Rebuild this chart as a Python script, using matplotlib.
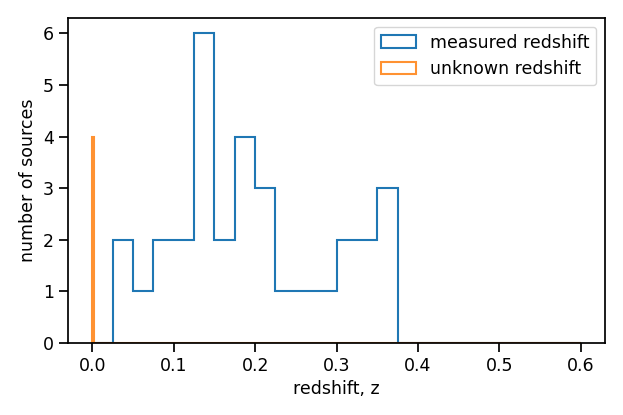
import numpy as np
import matplotlib
matplotlib.use("Agg")
import matplotlib.pyplot as plt
import seaborn as sns

sns.set_theme(style="ticks", context="notebook")
plt.rcParams['font.family'] = ['DejaVu Sans']
plt.rcParams.update({'font.size': 12.5,
                     'axes.labelsize': 12.5,
                     'xtick.labelsize': 12.5,
                     'ytick.labelsize': 12.5,
                     'legend.fontsize': 12.5,
                     'axes.edgecolor': 'black',
                     'xtick.color': 'black',
                     'ytick.color': 'black',
                     'text.color': 'black',
                     'axes.labelcolor': 'black',
                     'xtick.major.size': 6.5,
                     'ytick.major.size': 6.5})

# bin edges (width 0.025) and counts of sources with measured redshift
edges = np.arange(0, 0.6 + 1e-9, 0.025)
counts = [0, 2, 1, 2, 2, 6, 2, 4, 3, 1, 1, 1, 2, 2, 3,
          0, 0, 0, 0, 0, 0, 0, 0, 0]

# sources with unknown redshift, placed at z = 0
n_unknown = 4
unknown_edges = np.arange(0, 0.6 + 1e-9, 0.0015)

centres = edges[:-1] + 0.0125
fig, ax = plt.subplots(figsize=(6.23, 4.15), dpi=100)
ax.hist(centres, bins=edges, weights=counts, histtype="step",
        color="#1f77b4", linewidth=1.5, label="measured redshift")
ax.hist(np.zeros(n_unknown) + 0.0005, bins=unknown_edges, histtype="step",
        color="#ff7f0e", linewidth=1.5, alpha=0.85, label="unknown redshift")
ax.set_xlabel("redshift, z")
ax.set_ylabel("number of sources")
ax.legend(loc="upper right")
fig.subplots_adjust(left=68/623, right=605/623, top=1-18/415, bottom=1-343/415)
fig.savefig("out.png")
